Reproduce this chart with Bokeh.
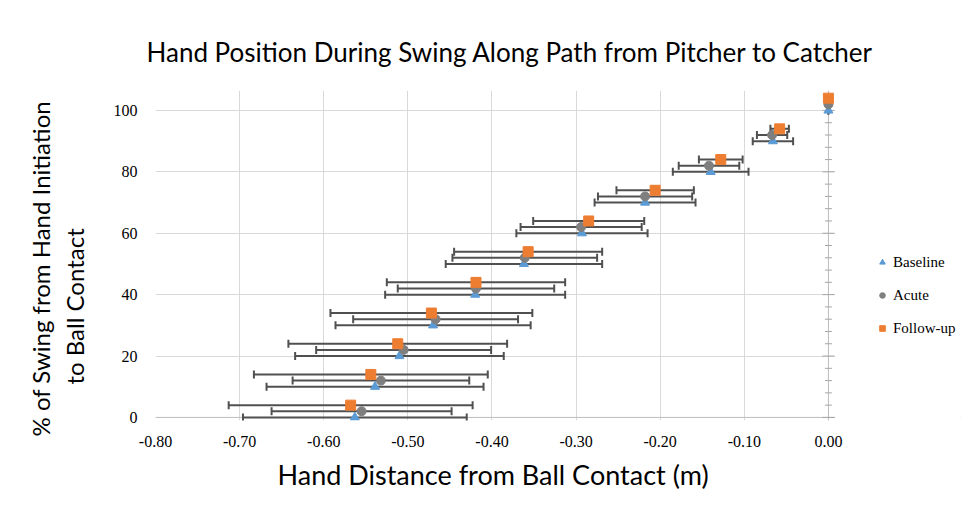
from bokeh.plotting import figure
from bokeh.models import (ColumnDataSource, Whisker, TeeHead, FixedTicker, NumeralTickFormatter,
                          Span, Legend, LegendItem, Title, Range1d, BoxAnnotation)
from bokeh.embed import file_html
from bokeh.resources import INLINE

# ---- data ----
pct_swing = [0, 10, 20, 30, 40, 50, 60, 70, 80, 90, 100]

baseline_mean = [-0.563, -0.539, -0.510, -0.470, -0.420, -0.362, -0.293, -0.218, -0.140, -0.066, 0.000]
baseline_sd   = [0.133, 0.129, 0.124, 0.116, 0.107, 0.093, 0.078, 0.060, 0.045, 0.024, 0.000]

acute_mean = [-0.555, -0.532, -0.505, -0.467, -0.419, -0.361, -0.294, -0.218, -0.142, -0.067, 0.000]
acute_sd   = [0.107, 0.105, 0.104, 0.098, 0.093, 0.086, 0.072, 0.056, 0.036, 0.018, 0.000]

followup_mean = [-0.568, -0.544, -0.512, -0.472, -0.419, -0.357, -0.285, -0.206, -0.128, -0.058, 0.000]
followup_sd   = [0.145, 0.139, 0.130, 0.120, 0.106, 0.088, 0.066, 0.046, 0.026, 0.011, 0.000]

x_ticks = [-0.80, -0.70, -0.60, -0.50, -0.40, -0.30, -0.20, -0.10, 0.00]
y_ticks = [0, 20, 40, 60, 80, 100]
y_minor_ticks = [4, 8, 12, 16, 24, 28, 32, 36, 44, 48, 52, 56, 64, 68, 72, 76, 84, 88, 92, 96]

series_names = ["Baseline", "Acute", "Follow-up"]

# ---- styling ----
OFFSETS = {"Baseline": 0.0, "Acute": 2.0, "Follow-up": 4.0}
COLORS = {"Baseline": "#5B9BD5", "Acute": "#7F7F7F", "Follow-up": "#ED7D31"}
BAR_COLOR = "#505050"
AXIS_GRAY = "#bfbfbf"
SERIF = "Liberation Serif"
SANS = "Lato"
PLOT_X_END = 0.008      # right end of the drawn plot area (just past 0.00)

p = figure(width=970, height=510,
           x_range=Range1d(-0.80, 0.157), y_range=Range1d(-1.0, 106.5),
           output_backend="svg", toolbar_location=None,
           min_border_left=155, min_border_right=10, min_border_top=90, min_border_bottom=90)
p.background_fill_color = "white"
p.border_fill_color = "white"
p.outline_line_color = None

# title
p.title.text = "Hand Position During Swing Along Path from Pitcher to Catcher"
p.title.align = "left"
p.title.text_font = SANS
p.title.text_font_size = "26px"
p.title.text_font_style = "normal"
p.title.text_color = "#000000"
p.title.standoff = 46
p.title.offset = -9

# x axis
xa = p.xaxis[0]
xa.ticker = FixedTicker(ticks=x_ticks)
xa.formatter = NumeralTickFormatter(format="0.00")
xa.axis_line_color = None
xa.major_tick_line_color = None
xa.minor_tick_line_color = None
xa.major_tick_out = 0
xa.major_tick_in = 0
xa.major_label_standoff = 15
xa.major_label_text_font = SERIF
xa.major_label_text_font_size = "16px"
xa.major_label_text_color = "#000000"

# x axis title (placed under the drawn plot area, not the full frame)
p.add_layout(Title(text="Hand Distance from Ball Contact (m)", align="left", offset=122,
                   text_font=SANS, text_font_size="27px", text_font_style="normal",
                   text_color="#000000", standoff=12), "below")

# y axis
ya = p.yaxis[0]
ya.ticker = FixedTicker(ticks=y_ticks)
ya.axis_line_color = None
ya.major_tick_line_color = None
ya.minor_tick_line_color = None
ya.major_tick_out = 0
ya.major_tick_in = 0
ya.major_label_standoff = 18
ya.major_label_text_font = SERIF
ya.major_label_text_font_size = "16px"
ya.major_label_text_color = "#000000"
# blank spacer label: widens the axis panel so the two title lines sit further out
ya.axis_label = " "
ya.axis_label_text_font_size = "10px"
ya.axis_label_standoff = 5

for t, off, so in [("to Ball Contact", 36, 6), ("% of Swing from Hand Initiation", -16, 0)]:
    p.add_layout(Title(text=t, align="left", offset=off, text_font=SANS,
                       text_font_size="24px", text_font_style="normal",
                       text_color="#000000", standoff=so), "left")

# grids
p.xgrid.ticker = FixedTicker(ticks=x_ticks)
p.ygrid.ticker = FixedTicker(ticks=y_ticks)
p.xgrid.grid_line_color = "#d9d9d9"
p.ygrid.grid_line_color = "#d9d9d9"

# axis lines crossing at zero
hs = Span(location=0, dimension="width", line_color=AXIS_GRAY, line_width=1)
hs.level = "underlay"
p.add_layout(hs)

# blank out everything to the right of the plot area (legend lives there)
cover = BoxAnnotation(left=PLOT_X_END, fill_color="white", fill_alpha=1.0, line_color=None)
cover.level = "underlay"
p.add_layout(cover)

vs = Span(location=0, dimension="height", line_color=AXIS_GRAY, line_width=1)
vs.level = "underlay"
p.add_layout(vs)

means = {"Baseline": baseline_mean, "Acute": acute_mean, "Follow-up": followup_mean}
sds = {"Baseline": baseline_sd, "Acute": acute_sd, "Follow-up": followup_sd}

sources = {}
for name in series_names:
    m = means[name]
    s = sds[name]
    sources[name] = ColumnDataSource(dict(
        x=m,
        y=[v + OFFSETS[name] for v in pct_swing],
        lower=[a - b for a, b in zip(m, s)],
        upper=[a + b for a, b in zip(m, s)],
    ))

for name in series_names:
    w = Whisker(source=sources[name], base="y", lower="lower", upper="upper", dimension="width",
                line_color=BAR_COLOR, line_width=2,
                upper_head=TeeHead(size=8, line_color=BAR_COLOR, line_width=2),
                lower_head=TeeHead(size=8, line_color=BAR_COLOR, line_width=2))
    w.level = "underlay"
    p.add_layout(w)

# tick marks on the vertical axis at x = 0
p.scatter(x=[0.0] * len(y_minor_ticks), y=y_minor_ticks, marker="dash", size=7,
          line_color="#a6a6a6", line_width=1)
p.scatter(x=[0.0] * len(y_ticks), y=y_ticks, marker="dash", size=12,
          line_color="#a6a6a6", line_width=1)

r_b = p.scatter("x", "y", source=sources["Baseline"], marker="triangle", size=9,
                fill_color=COLORS["Baseline"], line_color=COLORS["Baseline"])
r_a = p.scatter("x", "y", source=sources["Acute"], marker="circle", size=9,
                fill_color=COLORS["Acute"], line_color=COLORS["Acute"])
r_f = p.scatter("x", "y", source=sources["Follow-up"], marker="square", size=10,
                fill_color=COLORS["Follow-up"], line_color=COLORS["Follow-up"])

legend = Legend(items=[LegendItem(label="Baseline", renderers=[r_b]),
                       LegendItem(label="Acute", renderers=[r_a]),
                       LegendItem(label="Follow-up", renderers=[r_f])],
                location=(720, 82))
legend.label_text_font = SERIF
legend.label_text_font_size = "15px"
legend.label_text_color = "#000000"
legend.border_line_color = None
legend.background_fill_alpha = 0
legend.padding = 0
legend.margin = 0
legend.spacing = 13
legend.glyph_width = 14
legend.glyph_height = 20
legend.label_height = 20
legend.label_standoff = 4
p.add_layout(legend)

open("out.html", "w").write(file_html(p, INLINE))
